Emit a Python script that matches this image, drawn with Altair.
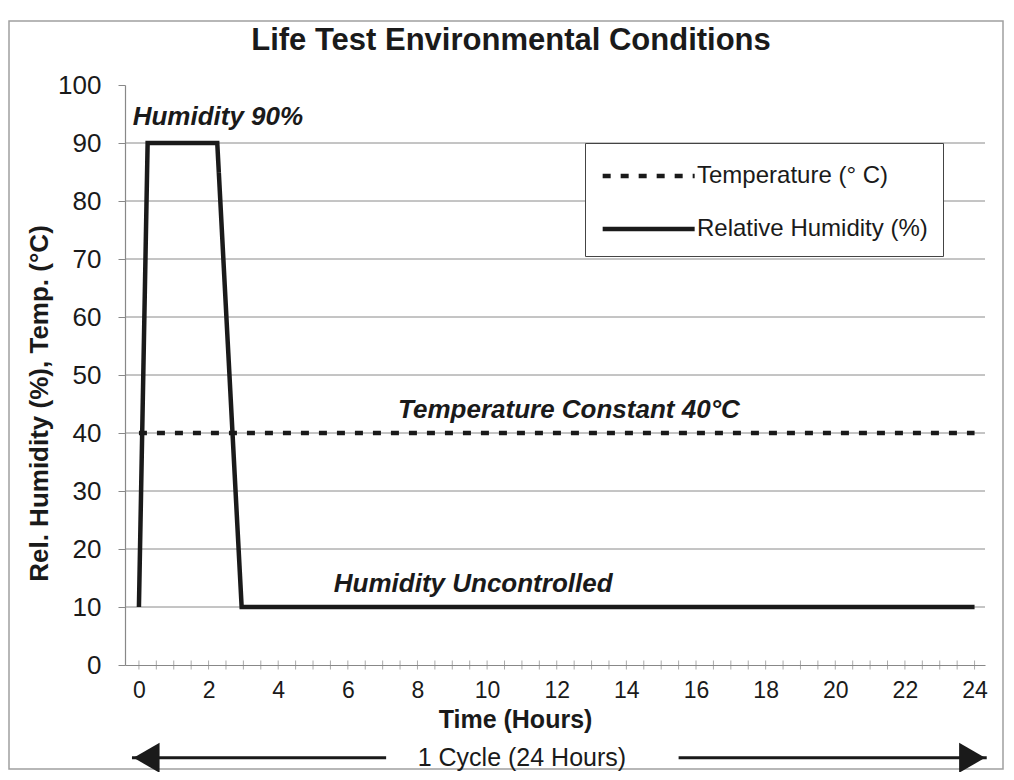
import altair as alt
import pandas as pd

FONT = "Liberation Sans"
INK = "#1a1a1a"

# ---- data ----
title_text = "Life Test Environmental Conditions"
hum_label = "Relative Humidity (%)"
temp_label = "Temperature (° C)"
hum_t = [0, 0.25, 2.25, 2.95, 24]
hum_v = [10, 90, 90, 10, 10]
temp_t = [0, 24]
temp_v = [40, 40]
grid_vals = [10, 20, 30, 40, 50, 60, 70, 80, 90]
x_label_vals = [0, 2, 4, 6, 8, 10, 12, 14, 16, 18, 20, 22, 24]
minor_ticks = [i / 2 for i in range(0, 49)]

notes_text = ["Humidity 90%", "Temperature Constant 40°C", "Humidity Uncontrolled"]
notes_x = [-0.18, 12.35, 9.6]
notes_y = [94.5, 44, 14]

cycle_text = ["1 Cycle (24 Hours)"]
cycle_x = [11.0]
cycle_y = [-16]
arrow_l = [-0.2, 7.1]
arrow_r = [15.5, 24.35]

series = pd.DataFrame(
    {"t": temp_t + hum_t,
     "v": temp_v + hum_v,
     "s": [temp_label] * len(temp_t) + [hum_label] * len(hum_t),
     "o": list(range(len(temp_t))) + list(range(len(hum_t)))}
)
grid_df = pd.DataFrame({"v": grid_vals})
tick_df = pd.DataFrame({"t": minor_ticks, "v": [0] * len(minor_ticks)})
notes_df = pd.DataFrame({"t": notes_x, "v": notes_y, "txt": notes_text})
cycle_df = pd.DataFrame({"t": cycle_x, "v": cycle_y, "txt": cycle_text})
arrows_df = pd.DataFrame({"t": [arrow_l[0], arrow_r[0]], "t2": [arrow_l[1], arrow_r[1]],
                          "v": [cycle_y[0], cycle_y[0]]})
heads_df = pd.DataFrame({"t": [arrow_l[0] + 0.42, arrow_r[1] - 0.42], "v": [cycle_y[0]] * 2,
                         "shape": ["triangle-left", "triangle-right"]})

xs = alt.Scale(domain=[-0.4, 24.3], nice=False, zero=False)
ys = alt.Scale(domain=[0, 100], nice=False)

base_x = alt.X("t:Q", scale=xs,
               axis=alt.Axis(values=x_label_vals, title="Time (Hours)", grid=False, ticks=False,
                             labelPadding=14, labelFontSize=23, labelFont=FONT, labelColor=INK,
                             titleFont=FONT, titleFontSize=25, titleFontWeight="bold", titleColor=INK,
                             titleX=390, titleY=54, titleBaseline="middle",
                             domainColor="#888", domainWidth=1.2, labelFlush=False))
base_y = alt.Y("v:Q", scale=ys,
               axis=alt.Axis(values=list(range(0, 101, 10)), title="Rel. Humidity (%), Temp. (°C)",
                             grid=False, tickSize=7, tickColor="#888", domainColor="#888", domainWidth=1.2,
                             labelPadding=17, labelFontSize=26, labelFont=FONT, labelColor=INK,
                             titleFont=FONT, titleFontSize=26, titleFontWeight="bold", titleColor=INK,
                             titleX=-86, titleY=318, titleBaseline="middle", titleAlign="center"))

frame = alt.Chart(pd.DataFrame({"a": [0]})).mark_rect(
    fill=None, stroke="#a0a0a0", strokeWidth=1.5
).encode(x=alt.value(-116), x2=alt.value(878), y=alt.value(-64), y2=alt.value(684))

title = alt.Chart(pd.DataFrame({"txt": [title_text]})).mark_text(
    font=FONT, fontSize=31, fontWeight="bold", color=INK, align="center", baseline="middle"
).encode(x=alt.value(386), y=alt.value(-44), text="txt:N")

grid = alt.Chart(grid_df).mark_rule(color="#8a8a8a", strokeWidth=1).encode(y=alt.Y("v:Q", scale=ys))

ticks = alt.Chart(tick_df).mark_tick(color="#888", orient="vertical", size=9, thickness=1).encode(
    x=alt.X("t:Q", scale=xs), y=alt.Y("v:Q", scale=ys))

lines = alt.Chart(series).mark_line(strokeWidth=4.5, color=INK, strokeCap="butt", strokeJoin="miter").encode(
    x=base_x, y=base_y, order="o:Q",
    strokeDash=alt.StrokeDash("s:N", title=None,
                              scale=alt.Scale(domain=[temp_label, hum_label], range=[[8, 10], [1, 0]]),
                              legend=alt.Legend(orient="none", legendX=460, legendY=58, padding=15,
                                                fillColor="white", strokeColor="#444",
                                                symbolType="M-1,0H5", symbolSize=940,
                                                symbolStrokeWidth=4.5, symbolStrokeColor=INK,
                                                labelOffset=61, labelFont=FONT, labelFontSize=24,
                                                labelColor=INK, rowPadding=23, labelLimit=400)),
)

notes_left = alt.Chart(notes_df.iloc[[0]]).mark_text(font=FONT, fontSize=26, fontWeight="bold",
                                                     fontStyle="italic", color=INK, align="left",
                                                     baseline="middle").encode(
    x=alt.X("t:Q", scale=xs), y=alt.Y("v:Q", scale=ys), text="txt:N")
notes_center = alt.Chart(notes_df.iloc[1:]).mark_text(font=FONT, fontSize=26, fontWeight="bold",
                                                      fontStyle="italic", color=INK, align="center",
                                                      baseline="middle").encode(
    x=alt.X("t:Q", scale=xs), y=alt.Y("v:Q", scale=ys), text="txt:N")

cycle = alt.Chart(cycle_df).mark_text(font=FONT, fontSize=25, color=INK, align="center",
                                      baseline="middle").encode(
    x=alt.X("t:Q", scale=xs), y=alt.Y("v:Q", scale=ys), text="txt:N")
arrows = alt.Chart(arrows_df).mark_rule(color=INK, strokeWidth=3).encode(
    x=alt.X("t:Q", scale=xs), x2="t2:Q", y=alt.Y("v:Q", scale=ys))
heads = alt.Chart(heads_df).mark_point(filled=True, color=INK, size=900, opacity=1).encode(
    x=alt.X("t:Q", scale=xs), y=alt.Y("v:Q", scale=ys),
    shape=alt.Shape("shape:N", scale=None, legend=None))

chart = alt.layer(frame, title, grid, ticks, lines, notes_left, notes_center, cycle, arrows, heads).properties(
    width=860, height=580,
    autosize=alt.AutoSizeParams(type="none"),
    padding={"left": 117, "top": 77, "right": 21, "bottom": 107},
    background="white",
).configure_view(stroke=None)

chart.save("out.html", embed_options={"renderer": "svg", "actions": False})
